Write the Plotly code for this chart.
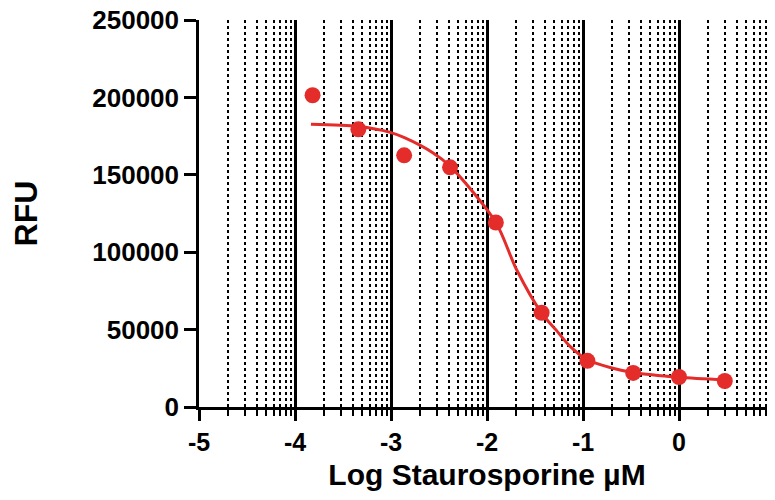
import math
import plotly.graph_objects as go

# Measured data (log concentration, RFU)
log_conc = [-3.817, -3.340, -2.863, -2.385, -1.908, -1.431, -0.954, -0.477, 0.0, 0.477]
rfu = [201400, 179400, 162600, 154800, 119200, 60900, 29800, 22000, 19400, 16800]

# Fitted curve
fit_x = [-3.834, -3.340, -3.017, -2.860, -2.565, -2.385, -1.908, -1.694,
         -1.431, -1.277, -1.140, -0.954, -0.700, -0.477, 0.0, 0.477]
fit_y = [182600, 181200, 177600, 174000, 164300, 155600, 119200, 89000,
         60700, 49500, 39500, 30500, 25200, 22300, 19200, 17500]

x_ticks = [-5, -4, -3, -2, -1, 0, 1]
y_ticks = [0, 50000, 100000, 150000, 200000, 250000]
minor_vals = [n + math.log10(k) for n in range(-5, 1) for k in range(2, 10)]

RED = "rgb(228,45,43)"
FONT = "Liberation Sans, Arial, sans-serif"

fig = go.Figure()
fig.add_trace(go.Scatter(x=fit_x, y=fit_y, mode="lines",
                         line=dict(color=RED, width=3, shape="spline", smoothing=0.8),
                         showlegend=False, hoverinfo="skip"))
fig.add_trace(go.Scatter(x=log_conc, y=rfu, mode="markers",
                         marker=dict(color=RED, size=16),
                         showlegend=False))

# the page body adds an 8px offset, so the figure is sized to fit the window
fig.update_layout(
    width=767, height=492,
    margin=dict(l=191, r=0, t=12, b=93),
    paper_bgcolor="white", plot_bgcolor="white",
    font=dict(family=FONT, color="black", weight="bold"),
)
fig.update_xaxes(
    range=[-5, 1], tickmode="array", tickvals=x_ticks,
    ticktext=[str(v) for v in x_ticks],
    tickfont=dict(size=25, family=FONT, weight="bold"),
    ticks="outside", ticklen=11, tickwidth=2.5, tickcolor="black",
    showline=True, linecolor="black", linewidth=2.5,
    showgrid=True, gridcolor="black", gridwidth=2.8,
    zeroline=False, automargin=False, ticklabeloverflow="allow",
    minor=dict(tickmode="array", tickvals=minor_vals, ticks="outside", ticklen=6,
               tickwidth=2, tickcolor="black", showgrid=True, gridcolor="black",
               gridwidth=1.6, griddash="dot"),
    title=dict(text="Log Staurosporine µM", font=dict(size=30, family=FONT, weight="bold"),
               standoff=10),
)
fig.update_yaxes(
    range=[0, 250000], tickmode="array", tickvals=y_ticks,
    ticktext=[str(v) for v in y_ticks],
    tickfont=dict(size=26, family=FONT, weight="bold"),
    ticks="outside", ticklen=12, tickwidth=2.5, tickcolor="black",
    showline=True, linecolor="black", linewidth=2.5,
    showgrid=False, zeroline=False, automargin=False, ticklabeloverflow="allow",
    title=dict(text="RFU", font=dict(size=32, family=FONT, weight="bold"), standoff=49),
)

fig.write_html("out.html")
